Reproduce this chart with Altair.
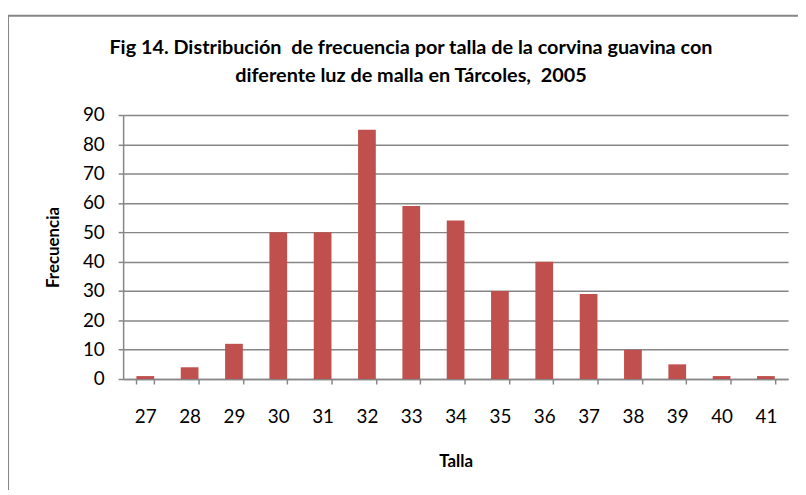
import altair as alt
import pandas as pd

# Data
talla = ["27", "28", "29", "30", "31", "32", "33", "34", "35", "36", "37", "38", "39", "40", "41"]
frecuencia = [1, 4, 12, 50, 50, 85, 59, 54, 30, 40, 29, 10, 5, 1, 1]
y_ticks = [0, 10, 20, 30, 40, 50, 60, 70, 80, 90]
title_lines = [
    "Fig 14. Distribución \u00a0de frecuencia por talla de la corvina guavina con",
    "diferente luz de malla en Tárcoles, \u00a02005",
]

df = pd.DataFrame({"Talla": talla, "Frecuencia": frecuencia})

FONT = "Lato"
GRAY = "#868686"
BAR = "#C0504D"

W, H = 670, 266

border = alt.Chart(alt.Data(values=[{"a": 1}])).mark_rect(
    fillOpacity=0, stroke=GRAY, strokeWidth=2
).encode(
    x=alt.value(-116), x2=alt.value(W + 60),
    y=alt.value(-100), y2=alt.value(H + 200),
)

title = alt.Chart(alt.Data(values=[{"a": 1}])).mark_text(
    font=FONT, fontSize=20, fontWeight="bold", color="black",
    align="center", baseline="middle", lineHeight=28, lineBreak="\n",
).encode(
    x=alt.value(W / 2 - 45), y=alt.value(-67),
    text=alt.value("\n".join(title_lines)),
)

bars = alt.Chart(df).mark_bar(color=BAR).encode(
    x=alt.X(
        "Talla:N", sort=None,
        scale=alt.Scale(paddingInner=0.6, paddingOuter=0.3),
        axis=alt.Axis(
            title="Talla", labelAngle=0, tickBand="extent",
            domainColor=GRAY, domainWidth=1.5, tickColor=GRAY, tickSize=5, tickWidth=1.5,
            labelFont=FONT, labelFontSize=19, labelColor="black", labelPadding=24,
            titleFont=FONT, titleFontSize=17, titleFontWeight="bold", titleColor="black",
            titlePadding=27, grid=False,
        ),
    ),
    y=alt.Y(
        "Frecuencia:Q",
        scale=alt.Scale(domain=[0, 90], nice=False),
        axis=alt.Axis(
            title="Frecuencia", values=y_ticks,
            domainColor=GRAY, domainWidth=1.5, tickColor=GRAY, tickSize=5, tickWidth=1.5,
            gridColor=GRAY, gridWidth=1.5,
            labelFont=FONT, labelFontSize=19, labelColor="black", labelPadding=14,
            titleFont=FONT, titleFontSize=17, titleFontWeight="bold", titleColor="black",
            titlePadding=20,
        ),
    ),
)

chart = alt.layer(border, title, bars).properties(
    width=W, height=H,
    autosize=alt.AutoSizeParams(type="none"),
    padding={"left": 116, "top": 106, "right": 10, "bottom": 110},
).configure_view(stroke=None)

chart.save("out.html", embed_options={"renderer": "svg", "actions": False})
